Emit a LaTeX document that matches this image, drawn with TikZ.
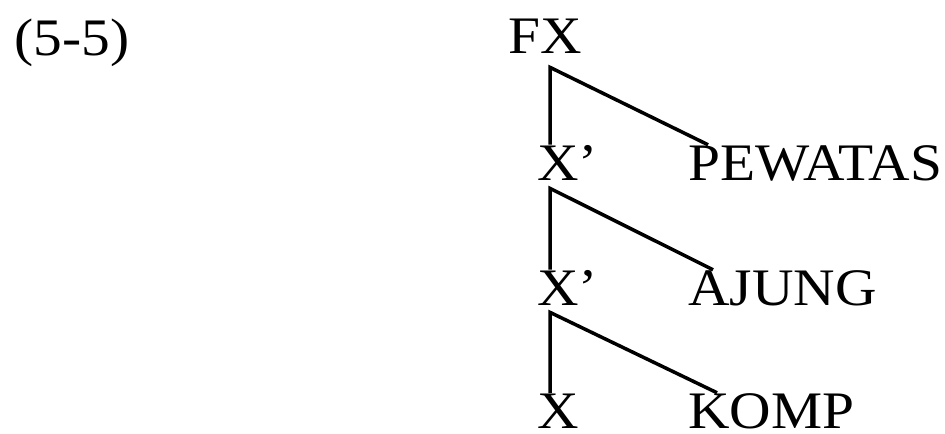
\documentclass[tikz,border=0pt]{standalone}
\usepackage{fontspec}
\setmainfont[FakeStretch=1.09]{Liberation Serif}
\usetikzlibrary{calc}

\begin{document}
\begin{tikzpicture}[x=0.02cm, y=-0.02cm,
    cat/.style={anchor=base west, inner sep=0pt, font=\fontsize{30}{36}\selectfont},
    branch/.style={line width=2pt, line join=miter}
  ]
  \useasboundingbox (0,0) rectangle (945,433);
  % example number
  \node[cat] (exno) at (14,55) {(5-5)};

  % tree nodes
  \node[cat] (fx)  at (508,53)  {FX};
  \node[cat] (xa)  at (537,180) {X’};
  \node[cat] (pew) at (688,180) {PEWATAS};
  \node[cat] (xb)  at (537,305) {X’};
  \node[cat] (aj)  at (688,305) {AJUNG};
  \node[cat] (x)   at (537,428) {X};
  \node[cat] (kom) at (688,428) {KOMP};

  % branches
  \draw[branch] ($(xa.north west)+(13,0)$) -- ($(fx.south -| xa.north west)+(13,14)$)
                -- ($(pew.north west)+(20,0)$);
  \draw[branch] ($(xb.north west)+(13,0)$) -- ($(xa.south -| xb.north west)+(13,8)$)
                -- ($(aj.north west)+(25,0)$);
  \draw[branch] ($(x.north west)+(13,0)$) -- ($(xb.south -| x.north west)+(13,7)$)
                -- ($(kom.north west)+(29,0)$);
\end{tikzpicture}
\end{document}
